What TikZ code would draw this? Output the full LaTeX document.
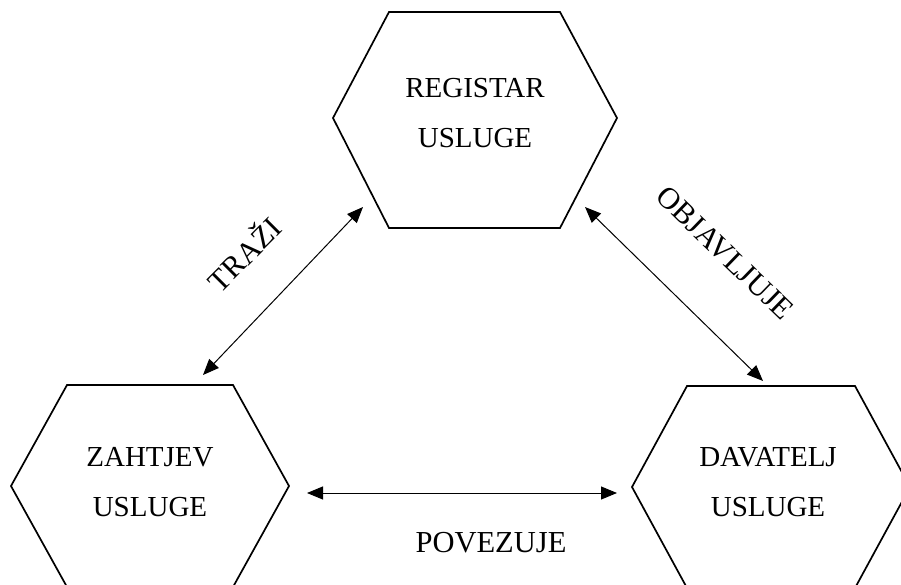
\documentclass[tikz,border=0pt]{standalone}
\usepackage{fontspec}
\setmainfont{Liberation Serif}
\usetikzlibrary{arrows.meta}
\tikzset{
  hexline/.style={line width=1.7pt, line join=miter},
  label/.style={font=\fontsize{29}{50}\selectfont, align=center, inner sep=0pt},
  edgelabel/.style={font=\fontsize{30.5}{50}\selectfont, inner sep=0pt},
  link/.style={line width=1pt, {Triangle[length=16pt,width=13pt]}-{Triangle[length=16pt,width=13pt]}}
}
\begin{document}
\begin{tikzpicture}[x=1pt,y=-1pt]
\useasboundingbox (0,0) rectangle (901,585);
\clip (0,0) rectangle (901,585);
% hexagons
\draw[hexline] (389,12) -- (560,12) -- (617,118) -- (560,228) -- (389,228) -- (333,118) -- cycle;
\draw[hexline] (67,385) -- (233,385) -- (289,486) -- (233,587) -- (67,587) -- (11,486) -- cycle;
\draw[hexline] (687,386) -- (855,386) -- (910,487) -- (855,588) -- (687,588) -- (632,487) -- cycle;
% node texts
\node[label] (reg) at (475,113) {REGISTAR\\USLUGE};
\node[label] (zah) at (150,482) {ZAHTJEV\\USLUGE};
\node[label] (dav) at (768,482) {DAVATELJ\\USLUGE};
% connector ends
\coordinate (t1) at (203,375);
\coordinate (t2) at (363,207);
\coordinate (o1) at (585,207);
\coordinate (o2) at (763,381);
\coordinate (p1) at (307,493);
\coordinate (p2) at (617,493);
\draw[link] (t1) -- (t2);
\draw[link] (o1) -- (o2);
\draw[link] (p1) -- (p2);
% connector labels
\node[edgelabel, rotate=45] (trazi) at (243,253) {TRAŽI};
\node[edgelabel, rotate=-44] (objav) at (725,253) {OBJAVLJUJE};
\node[edgelabel, anchor=base] (povez) at (491,552) {POVEZUJE};
\end{tikzpicture}
\end{document}
